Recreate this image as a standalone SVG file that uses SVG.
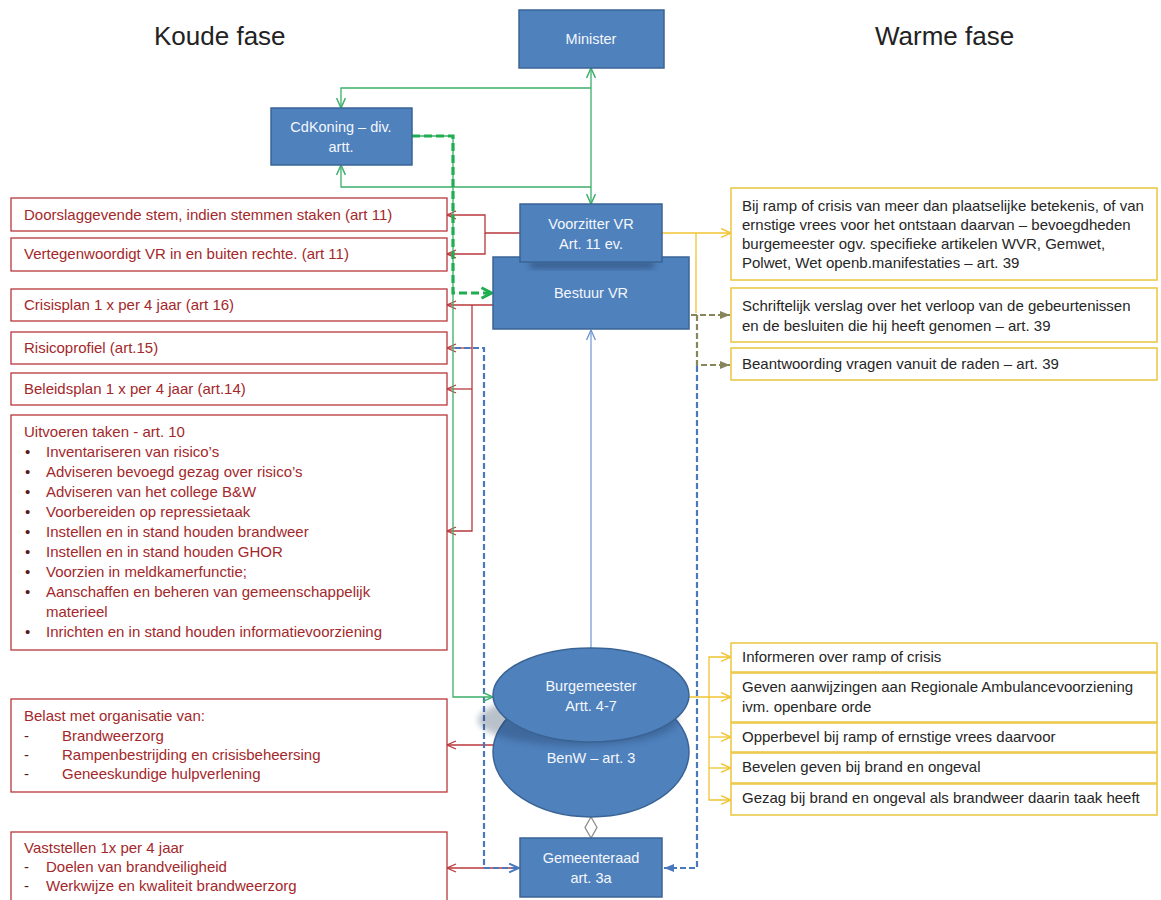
<svg xmlns="http://www.w3.org/2000/svg" width="1161" height="900" viewBox="0 0 1161 900">
<style>
.t{font-family:"Liberation Sans",Arial,sans-serif}
.title{font-size:26px;fill:#222}
.bn{fill:#4f81bd;stroke:#3a6495;stroke-width:1.5}
.bt{font-size:14.5px;fill:#f4f7fc;text-anchor:middle}
.rb{fill:#fff;stroke:#b8383b;stroke-width:1.3}
.rt{font-size:15px;fill:#a3282b}
.bul{fill:#5a1a1a}
.yb{fill:#fff;stroke:#ebc94a;stroke-width:1.6}
.yt{font-size:15px;fill:#262626}
.c{fill:none}
.cr{stroke:#b8383b;stroke-width:1.3}
.cy{stroke:#f0c430;stroke-width:1.3}
.cg{stroke:#3cae6a;stroke-width:1.3}
.cgt{stroke:#1fae4f;stroke-width:3.2;stroke-dasharray:8 4}
.cb{stroke:#6f96cf;stroke-width:1.2}
.cbd{stroke:#4a78bd;stroke-width:2.2;stroke-dasharray:6 3}
.co{stroke:#86865a;stroke-width:2.2;stroke-dasharray:6 3}
</style>
<defs>
<marker id="ar" viewBox="0 0 10 10" refX="10" refY="5" markerWidth="10" markerHeight="10" markerUnits="userSpaceOnUse" orient="auto-start-reverse"><path d="M1,1 L10,5 L1,9" fill="none" stroke="#b8383b" stroke-width="1.3"/></marker>
<marker id="ay" viewBox="0 0 10 10" refX="10" refY="5" markerWidth="11" markerHeight="11" markerUnits="userSpaceOnUse" orient="auto-start-reverse"><path d="M1,1 L10,5 L1,9" fill="none" stroke="#f0c430" stroke-width="1.3"/></marker>
<marker id="ag" viewBox="0 0 10 10" refX="10" refY="5" markerWidth="11" markerHeight="11" markerUnits="userSpaceOnUse" orient="auto-start-reverse"><path d="M1,1 L10,5 L1,9" fill="none" stroke="#3cae6a" stroke-width="1.3"/></marker>
<marker id="agt" viewBox="0 0 12 12" refX="11" refY="6" markerWidth="14" markerHeight="14" markerUnits="userSpaceOnUse" orient="auto"><path d="M2,1.5 L10.5,6 L2,10.5" fill="none" stroke="#1fae4f" stroke-width="2.6"/></marker>
<marker id="ab" viewBox="0 0 10 10" refX="10" refY="5" markerWidth="11" markerHeight="11" markerUnits="userSpaceOnUse" orient="auto"><path d="M1,1 L10,5 L1,9" fill="none" stroke="#6f96cf" stroke-width="1.2"/></marker>
<marker id="abo" viewBox="0 0 10 10" refX="10" refY="5" markerWidth="11" markerHeight="11" markerUnits="userSpaceOnUse" orient="auto"><path d="M1,1 L10,5 L1,9" fill="none" stroke="#4a78bd" stroke-width="1.8"/></marker>
<marker id="abf" viewBox="0 0 10 10" refX="10" refY="5" markerWidth="10" markerHeight="10" markerUnits="userSpaceOnUse" orient="auto"><path d="M0,1 L10,5 L0,9 Z" fill="#4a78bd"/></marker>
<marker id="aof" viewBox="0 0 10 10" refX="10" refY="5" markerWidth="10" markerHeight="10" markerUnits="userSpaceOnUse" orient="auto"><path d="M0,1 L10,5 L0,9 Z" fill="#86865a"/></marker>
<filter id="blur" x="-20%" y="-50%" width="140%" height="200%"><feGaussianBlur stdDeviation="3"/></filter>
</defs>
<rect width="1161" height="900" fill="#fff"/>

<g id="titles" class="t title">
<text x="154" y="45">Koude fase</text>
<text x="875" y="45">Warme fase</text>
</g>

<g id="connectors">
<path class="c cr" d="M520,233 H485 V215 H447" marker-end="url(#ar)"/>
<path class="c cr" d="M485,233 V254 H447" marker-end="url(#ar)"/>
<path class="c cr" d="M493,305 H447" marker-end="url(#ar)"/>
<path class="c cr" d="M472,305 V531 H447" marker-end="url(#ar)"/>
<path class="c cr" d="M472,348 H447" marker-end="url(#ar)"/>
<path class="c cr" d="M472,389 H447" marker-end="url(#ar)"/>
<path class="c cr" d="M494,745 H447" marker-end="url(#ar)"/>
<path class="c cr" d="M520,868 H447" marker-end="url(#ar)"/>
<path class="c cy" d="M662,233 H731" marker-end="url(#ay)"/>
<path class="c cy" d="M696,233 V313"/>
<path class="c cy" d="M689,697 H731" marker-end="url(#ay)"/>
<path class="c cy" d="M709,697 V657 H731" marker-end="url(#ay)"/>
<path class="c cy" d="M709,697 V800 H731" marker-end="url(#ay)"/>
<path class="c cy" d="M709,737 H731" marker-end="url(#ay)"/>
<path class="c cy" d="M709,768 H731" marker-end="url(#ay)"/>
<path class="c cb" d="M591,648 V330" marker-end="url(#ab)"/>
<path class="c cbd" d="M455,348 H484 V868 H519" marker-end="url(#abo)"/>
<path class="c cbd" d="M697,366 V868 H664" marker-end="url(#abf)"/>
<path class="c co" d="M691,315 H730" marker-end="url(#aof)"/>
<path class="c co" d="M697,315 V365 H730" marker-end="url(#aof)"/>
<path d="M591,817 L597,827.5 L591,838 L585,827.5 Z" fill="#fff" stroke="#8c8c8c" stroke-width="1.3"/>
<path class="c cg" d="M591,88 V68" marker-end="url(#ag)"/>
<path class="c cg" d="M591,88 V204" marker-end="url(#ag)"/>
<path class="c cg" d="M591,88 H341 V108" marker-end="url(#ag)"/>
<path class="c cg" d="M591,187 H341 V165" marker-end="url(#ag)"/>
<path class="c cg" d="M412,136 H453 V697 H493" marker-end="url(#ag)"/>
<path class="c cgt" d="M412,136 H453 V293 H492" marker-end="url(#agt)"/>
</g>

<g id="n-minister">
<rect class="bn" x="519" y="10" width="145" height="58"/>
<text class="t bt" x="591" y="44">Minister</text>
</g>
<g id="n-cdkoning">
<rect class="bn" x="271" y="108" width="141" height="57"/>
<text class="t bt" x="341" y="132">CdKoning – div.</text>
<text class="t bt" x="341" y="152">artt.</text>
</g>
<g id="n-bestuur">
<rect class="bn" x="493" y="257" width="196" height="72"/>
<rect x="530" y="262" width="124" height="6" fill="#1d3557" opacity="0.55" filter="url(#blur)"/>
<text class="t bt" x="591" y="298">Bestuur VR</text>
</g>
<g id="n-voorzitter">
<rect class="bn" x="520" y="204" width="142" height="58"/>
<text class="t bt" x="591" y="229">Voorzitter VR</text>
<text class="t bt" x="591" y="249">Art. 11 ev.</text>
</g>
<g id="n-benw">
<ellipse class="bn" cx="591" cy="752" rx="98" ry="65"/>
<ellipse cx="578" cy="720" rx="100" ry="26" fill="#1d3557" opacity="0.3" filter="url(#blur)"/>
<text class="t bt" x="591" y="763">BenW – art. 3</text>
</g>
<g id="n-burgemeester">
<ellipse class="bn" cx="591" cy="695" rx="98" ry="47"/>
<text class="t bt" x="591" y="691">Burgemeester</text>
<text class="t bt" x="591" y="711">Artt. 4-7</text>
</g>
<g id="n-gemeenteraad">
<rect class="bn" x="520" y="838" width="142" height="59"/>
<text class="t bt" x="591" y="863">Gemeenteraad</text>
<text class="t bt" x="591" y="883">art. 3a</text>
</g>

<g id="l-doorslag">
<rect class="rb" x="11" y="198" width="436" height="33"/>
<text class="t rt" x="24" y="220">Doorslaggevende stem, indien stemmen staken (art 11)</text>
</g>
<g id="l-vertegenwoordigt">
<rect class="rb" x="11" y="238" width="436" height="33"/>
<text class="t rt" x="24" y="259">Vertegenwoordigt VR in en buiten rechte. (art 11)</text>
</g>
<g id="l-crisisplan">
<rect class="rb" x="11" y="289" width="436" height="32"/>
<text class="t rt" x="24" y="310">Crisisplan 1 x per 4 jaar (art 16)</text>
</g>
<g id="l-risicoprofiel">
<rect class="rb" x="11" y="332" width="436" height="32"/>
<text class="t rt" x="24" y="353">Risicoprofiel (art.15)</text>
</g>
<g id="l-beleidsplan">
<rect class="rb" x="11" y="373" width="436" height="32"/>
<text class="t rt" x="24" y="394">Beleidsplan 1 x per 4 jaar (art.14)</text>
</g>
<g id="l-uitvoeren" class="t rt">
<rect class="rb" x="11" y="415" width="436" height="235"/>
<text x="24" y="437">Uitvoeren taken - art. 10</text>
<text class="bul" x="25" y="457">•</text><text x="46" y="457">Inventariseren van risico’s</text>
<text class="bul" x="25" y="477">•</text><text x="46" y="477">Adviseren bevoegd gezag over risico’s</text>
<text class="bul" x="25" y="497">•</text><text x="46" y="497">Adviseren van het college B&amp;W</text>
<text class="bul" x="25" y="517">•</text><text x="46" y="517">Voorbereiden op repressietaak</text>
<text class="bul" x="25" y="537">•</text><text x="46" y="537">Instellen en in stand houden brandweer</text>
<text class="bul" x="25" y="557">•</text><text x="46" y="557">Instellen en in stand houden GHOR</text>
<text class="bul" x="25" y="577">•</text><text x="46" y="577">Voorzien in meldkamerfunctie;</text>
<text class="bul" x="25" y="597">•</text><text x="46" y="597">Aanschaffen en beheren van gemeenschappelijk</text>
<text x="46" y="617">materieel</text>
<text class="bul" x="25" y="637">•</text><text x="46" y="637">Inrichten en in stand houden informatievoorziening</text>
</g>
<g id="l-belast" class="t rt">
<rect class="rb" x="11" y="699" width="436" height="93"/>
<text x="24" y="721">Belast met organisatie van:</text>
<text class="bul" x="24" y="741">-</text><text x="62" y="741">Brandweerzorg</text>
<text class="bul" x="24" y="760">-</text><text x="62" y="760">Rampenbestrijding en crisisbeheersing</text>
<text class="bul" x="24" y="779">-</text><text x="62" y="779">Geneeskundige hulpverlening</text>
</g>
<g id="l-vaststellen" class="t rt">
<rect class="rb" x="11" y="832" width="436" height="80"/>
<text x="24" y="853">Vaststellen 1x per 4 jaar</text>
<text class="bul" x="24" y="872">-</text><text x="46" y="872">Doelen van brandveiligheid</text>
<text class="bul" x="24" y="891">-</text><text x="46" y="891">Werkwijze en kwaliteit brandweerzorg</text>
</g>

<g id="r-bijramp" class="t yt">
<rect class="yb" x="731" y="188" width="426" height="92"/>
<text x="742" y="211">Bij ramp of crisis van meer dan plaatselijke betekenis, of van</text>
<text x="742" y="230">ernstige vrees voor het ontstaan daarvan – bevoegdheden</text>
<text x="742" y="249">burgemeester  ogv. specifieke artikelen WVR, Gemwet,</text>
<text x="742" y="268">Polwet, Wet openb.manifestaties – art. 39</text>
</g>
<g id="r-verslag" class="t yt">
<rect class="yb" x="731" y="288" width="426" height="54"/>
<text x="742" y="311">Schriftelijk verslag over het verloop van de gebeurtenissen</text>
<text x="742" y="331">en de besluiten die hij heeft genomen  – art. 39</text>
</g>
<g id="r-beantwoording" class="t yt">
<rect class="yb" x="731" y="348" width="426" height="32"/>
<text x="742" y="369">Beantwoording vragen vanuit de raden – art. 39</text>
</g>
<g id="r-informeren" class="t yt">
<rect class="yb" x="731" y="643" width="426" height="29"/>
<text x="742" y="662">Informeren over ramp of crisis</text>
</g>
<g id="r-geven" class="t yt">
<rect class="yb" x="731" y="673" width="426" height="49"/>
<text x="742" y="692">Geven  aanwijzingen aan Regionale Ambulancevoorziening</text>
<text x="742" y="712">ivm. openbare orde</text>
</g>
<g id="r-opperbevel" class="t yt">
<rect class="yb" x="731" y="723" width="426" height="29"/>
<text x="742" y="742">Opperbevel bij ramp of ernstige vrees daarvoor</text>
</g>
<g id="r-bevelen" class="t yt">
<rect class="yb" x="731" y="753" width="426" height="30"/>
<text x="742" y="772">Bevelen geven bij brand en ongeval</text>
</g>
<g id="r-gezag" class="t yt">
<rect class="yb" x="731" y="784" width="426" height="31"/>
<text x="742" y="803">Gezag bij brand en ongeval als brandweer daarin taak heeft</text>
</g>
</svg>
